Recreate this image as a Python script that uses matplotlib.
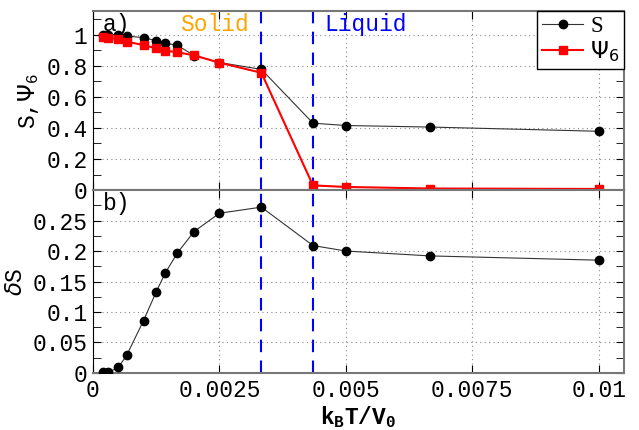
import matplotlib.pyplot as plt
from matplotlib.ticker import MultipleLocator, FixedLocator

# temperature k_B T / V_0
T = [0.0002, 0.0003, 0.0005, 0.000667, 0.001, 0.00125, 0.00143, 0.00167,
     0.002, 0.0025, 0.00333, 0.00435, 0.005, 0.00667, 0.01]
# order parameters
S = [1.0, 1.0, 1.0, 0.99, 0.98, 0.96, 0.945, 0.93,
     0.865, 0.82, 0.776, 0.43, 0.415, 0.405, 0.378]
psi6 = [0.985, 0.98, 0.97, 0.954, 0.932, 0.911, 0.896, 0.886,
        0.866, 0.819, 0.754, 0.03, 0.02, 0.01, 0.007]
# fluctuation of S
dS = [0.001, 0.001, 0.009, 0.029, 0.086, 0.133, 0.164, 0.197,
      0.232, 0.262, 0.272, 0.209, 0.200, 0.192, 0.185]

T_solid = 0.00333
T_liquid = 0.00435

mono = "Liberation Mono"
fs = 16.5

fig = plt.figure(figsize=(6.39, 4.30), dpi=100)
ax1 = fig.add_axes([0.1455, 0.558, 0.831, 0.416])
ax2 = fig.add_axes([0.1455, 0.1326, 0.831, 0.4254], sharex=ax1)

for ax in (ax1, ax2):
    ax.axvline(T_solid, color="blue", ls=(0, (6, 4)), lw=1.5, zorder=1)
    ax.axvline(T_liquid, color="blue", ls=(0, (6, 4)), lw=1.5, zorder=1)
    ax.grid(True, which="major", color="#888888", ls=(0, (1, 3)), lw=0.8)
    ax.tick_params(direction="in", which="both", length=6, labelsize=fs,
                   top=True, right=True, pad=4)
    for side in ("top", "right", "bottom"):
        ax.spines[side].set_color("#777777")
        ax.spines[side].set_linewidth(1.5)
    ax.spines["left"].set_color("black")

# panel a
ax1.plot(T, S, color="#333333", lw=0.8, marker="o", ms=6,
         mfc="black", mec="black", label="S", zorder=3)
ax1.plot(T, psi6, color="red", lw=1.5, marker="s", ms=5.5,
         mfc="red", mec="red", label=r"$\Psi_6$", zorder=4)
ax1.set_xlim(0, 0.0105)
ax1.set_ylim(0, 1.15)
ax1.yaxis.set_major_locator(FixedLocator([0, 0.2, 0.4, 0.6, 0.8, 1]))
ax1.yaxis.set_minor_locator(MultipleLocator(0.1))
ax1.set_yticklabels(["0", "0.2", "0.4", "0.6", "0.8", "1"], fontfamily=mono)
ax1.tick_params(labelbottom=False)
ax1.set_ylabel(r"S,$\Psi_\mathregular{6}$", fontfamily=mono, fontsize=fs, labelpad=4)
ax1.text(0.0002, 1.02, "a)", fontfamily=mono, fontsize=fs)
ax1.text(0.00241, 1.02, "Solid", color="#ffa500", fontfamily=mono,
         fontsize=fs, ha="center")
ax1.text(0.00457, 1.02, "Liquid", color="blue", fontfamily=mono,
         fontsize=fs, ha="left")
leg = ax1.legend(loc="upper right", prop={"family": "Liberation Serif", "size": fs},
                 fancybox=False, edgecolor="black", framealpha=1,
                 borderpad=0.2, handlelength=1.8, handletextpad=0.3,
                 labelspacing=0.1, borderaxespad=0)
leg.get_frame().set_linewidth(1.0)

# panel b
ax2.plot(T, dS, color="#333333", lw=0.8, marker="o", ms=6,
         mfc="black", mec="black", zorder=3)
ax2.set_ylim(0, 0.3)
ax2.yaxis.set_major_locator(FixedLocator([0, 0.05, 0.1, 0.15, 0.2, 0.25]))
ax2.yaxis.set_minor_locator(MultipleLocator(0.025))
ax2.set_yticklabels(["0", "0.05", "0.1", "0.15", "0.2", "0.25"], fontfamily=mono)
ax2.xaxis.set_major_locator(FixedLocator([0, 0.0025, 0.005, 0.0075, 0.01]))
ax2.set_xticklabels(["0", "0.0025", "0.005", "0.0075", "0.01"], fontfamily=mono)
ax2.set_ylabel(r"$\delta$S", fontfamily=mono, fontsize=fs, labelpad=4)
ax2.set_xlabel(r"k$_\mathregular{B}$T/V$_\mathregular{0}$", fontfamily=mono,
               fontsize=fs, fontweight="bold", labelpad=2)
ax2.text(0.0002, 0.267, "b)", fontfamily=mono, fontsize=fs)

fig.savefig("out.png", dpi=100)
